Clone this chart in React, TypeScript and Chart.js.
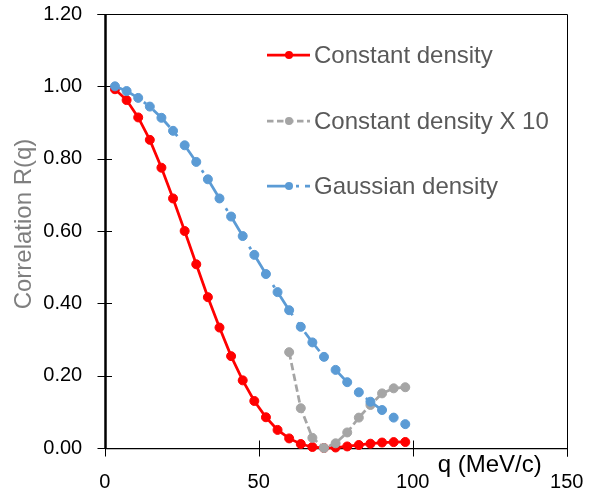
import React, { useEffect, useRef } from "react";
import { Chart, registerables } from "chart.js";

Chart.register(...registerables);

// ---- data ----
const qValues = [
  3.34, 7.11, 10.88, 14.65, 18.42, 22.19, 25.96, 29.73, 33.5, 37.27, 41.04, 44.81, 48.58,
  52.35, 56.12, 59.89, 63.66, 67.43, 71.2, 74.97, 78.74, 82.51, 86.28, 90.05, 93.82, 97.59,
];
const constantDensity = [
  0.992, 0.962, 0.914, 0.852, 0.775, 0.69, 0.6, 0.508, 0.417, 0.333, 0.254, 0.187, 0.13,
  0.085, 0.05, 0.0265, 0.011, 0.0028, 0.0, 0.0013, 0.0043, 0.0084, 0.0119, 0.0151, 0.0163, 0.0166,
];
const constantDensityX10 = [
  null, null, null, null, null, null, null, null, null, null, null, null, null, null, null,
  0.265, 0.11, 0.028, 0.0, 0.013, 0.043, 0.084, 0.119, 0.151, 0.165, 0.168,
];
const gaussianDensity = [
  1.0, 0.987, 0.968, 0.944, 0.913, 0.877, 0.837, 0.791, 0.743, 0.69, 0.64, 0.586, 0.534,
  0.481, 0.431, 0.381, 0.335, 0.292, 0.252, 0.216, 0.182, 0.154, 0.128, 0.105, 0.084, 0.066,
];
const seriesLabels = ["Constant density", "Constant density X 10", "Gaussian density"];
const xTickLabels = ["0", "50", "100", "150"];
const yTickLabels = ["0.00", "0.20", "0.40", "0.60", "0.80", "1.00", "1.20"];
const xAxisTitle = "q (MeV/c)";
const yAxisTitle = "Correlation R(q)";

const FONT = "'Liberation Sans', Arial, sans-serif";

const toPoints = (ys: (number | null)[]) => qValues.map((q, i) => ({ x: q, y: ys[i] }));

const framePlugin = {
  id: "frame",
  beforeDatasetsDraw(chart: any) {
    const { ctx, chartArea } = chart;
    const xs = chart.scales.x;
    const ys = chart.scales.y;
    const L = Math.round(chartArea.left);
    const R = Math.round(chartArea.right) + 0.5;
    const T = Math.round(chartArea.top) + 0.5;
    const B = Math.round(chartArea.bottom) + 0.5;
    ctx.save();
    ctx.strokeStyle = "#000";
    ctx.lineWidth = 1;
    ctx.beginPath();
    ctx.moveTo(L - 7.5, T);
    ctx.lineTo(R, T);
    ctx.lineTo(R, B + 8);
    ctx.stroke();
    ys.ticks.forEach((t: any) => {
      const y = Math.round(ys.getPixelForValue(t.value)) + 0.5;
      ctx.beginPath();
      ctx.moveTo(L - 7.5, y);
      ctx.lineTo(L + 7, y);
      ctx.stroke();
    });
    xs.ticks.forEach((t: any) => {
      const x = Math.round(xs.getPixelForValue(t.value)) + 0.5;
      ctx.beginPath();
      ctx.moveTo(x, B - 8);
      ctx.lineTo(x, B + 8);
      ctx.stroke();
    });
    ctx.lineWidth = 1.25;
    ctx.beginPath();
    ctx.moveTo(L, B);
    ctx.lineTo(R, B);
    ctx.stroke();
    ctx.lineWidth = 2.5;
    ctx.beginPath();
    ctx.moveTo(L + 0.5, T - 0.5);
    ctx.lineTo(L + 0.5, B + 0.5);
    ctx.stroke();
    ctx.restore();
  },
  afterDraw(chart: any) {
    const { ctx, chartArea } = chart;
    const xs = chart.scales.x;
    ctx.save();
    ctx.fillStyle = "#000";
    ctx.font = `24px ${FONT}`;
    ctx.textAlign = "center";
    ctx.textBaseline = "alphabetic";
    ctx.fillText(xAxisTitle, xs.getPixelForValue(125), chartArea.bottom + 24);

    ctx.save();
    ctx.translate(chartArea.left - 80, 224);
    ctx.rotate(-Math.PI / 2);
    ctx.fillStyle = "#7F7F7F";
    ctx.font = `24px ${FONT}`;
    ctx.textAlign = "center";
    ctx.textBaseline = "middle";
    ctx.fillText(yAxisTitle, 0, 0);
    ctx.restore();

    const rows = [55, 121, 186];
    const x0 = 267;
    const x1 = 310;
    chart.data.datasets.forEach((ds: any, i: number) => {
      const y = rows[i];
      ctx.save();
      ctx.strokeStyle = ds.borderColor;
      ctx.lineWidth = ds.borderWidth;
      ctx.setLineDash(ds.legendDash || []);
      ctx.beginPath();
      ctx.moveTo(x0, y);
      ctx.lineTo(x1, y);
      ctx.stroke();
      ctx.setLineDash([]);
      ctx.fillStyle = ds.pointBackgroundColor;
      ctx.beginPath();
      ctx.arc((x0 + x1) / 2 + 0.5, y, 4, 0, Math.PI * 2);
      ctx.fill();
      ctx.restore();
      ctx.fillStyle = "#595959";
      ctx.font = `24px ${FONT}`;
      ctx.textAlign = "left";
      ctx.textBaseline = "middle";
      ctx.fillText(ds.label, 314, y + 1);
    });
    ctx.restore();
  },
};

export default function App() {
  const canvasRef = useRef<HTMLCanvasElement | null>(null);

  useEffect(() => {
    if (!canvasRef.current) return;
    const mkDs = (
      label: string,
      ys: (number | null)[],
      color: string,
      dash: number[],
      legendDash: number[],
      order: number
    ) => ({
      label,
      data: toPoints(ys),
      borderColor: color,
      backgroundColor: color,
      pointBackgroundColor: color,
      pointBorderColor: color,
      borderWidth: 2.75,
      borderDash: dash,
      legendDash,
      pointRadius: 4.5,
      pointBorderWidth: 1,
      pointHoverRadius: 4.5,
      tension: 0,
      spanGaps: false,
      clip: false as any,
      order,
    });
    const chart = new Chart(canvasRef.current, {
      type: "line",
      data: {
        datasets: [
          mkDs(seriesLabels[0], constantDensity, "#FF0000", [], [], 3),
          mkDs(seriesLabels[1], constantDensityX10, "#A5A5A5", [7.5, 3.5], [6.5, 3.5], 2),
          mkDs(seriesLabels[2], gaussianDensity, "#5B9BD5", [24, 9, 3, 9], [20, 9, 3, 6], 1),
        ] as any,
      },
      options: {
        animation: false,
        responsive: true,
        maintainAspectRatio: false,
        layout: { padding: { top: 14, right: 43.3, left: 0, bottom: 0 } },
        plugins: { legend: { display: false }, tooltip: { enabled: false }, title: { display: false } },
        events: [],
        scales: {
          x: {
            type: "linear",
            min: 0,
            max: 150,
            grid: { display: false, drawTicks: false },
            border: { display: false },
            ticks: {
              stepSize: 50,
              padding: 22,
              color: "#000",
              font: { family: FONT, size: 20 },
              maxRotation: 0,
              callback: (_v: any, i: number) => xTickLabels[i],
            },
            afterFit: (s: any) => {
              s.height = 49;
              s.paddingLeft = 0;
              s.paddingRight = 0;
              s.paddingTop = 0;
              s.paddingBottom = 0;
            },
          },
          y: {
            type: "linear",
            min: 0,
            max: 1.2,
            grid: { display: false, drawTicks: false },
            border: { display: false },
            ticks: {
              stepSize: 0.2,
              padding: 22.5,
              color: "#000",
              font: { family: FONT, size: 20 },
              callback: (_v: any, i: number) => yTickLabels[i],
            },
            afterFit: (s: any) => {
              s.width = 104.7;
              s.paddingLeft = 0;
              s.paddingRight = 0;
              s.paddingTop = 0;
              s.paddingBottom = 0;
            },
          },
        },
      },
      plugins: [framePlugin],
    });
    return () => chart.destroy();
  }, []);

  return (
    <div style={{ position: "fixed", left: 0, top: 0, width: 610, height: 497, background: "#fff" }}>
      <canvas ref={canvasRef} style={{ display: "block" }} />
    </div>
  );
}
